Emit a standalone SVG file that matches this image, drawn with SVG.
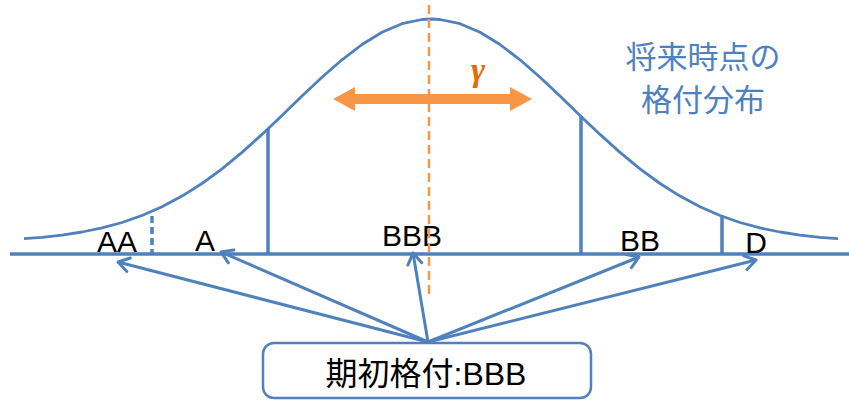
<svg xmlns="http://www.w3.org/2000/svg" width="849" height="401" viewBox="0 0 849 401">
<style>
.blue{stroke:#4F81BD;fill:none}
.lbl{font-family:"Liberation Sans",Arial,sans-serif;font-size:30px;fill:#000;text-anchor:middle}
.jp{font-family:"Noto Sans CJK JP","Noto Sans CJK SC",sans-serif;text-anchor:middle}
</style>
<defs>
<marker id="chev" markerUnits="userSpaceOnUse" markerWidth="30" markerHeight="30" viewBox="-15 -15 30 30" refX="0" refY="0" orient="auto">
<path d="M -11 -7 L 0 0 L -11 7" fill="none" stroke="#4F81BD" stroke-width="3" stroke-linecap="round" stroke-linejoin="round"/>
</marker>
</defs>
<rect width="849" height="401" fill="#fff"/>
<g id="distribution">
<polyline class="blue" stroke-width="2.8" stroke-linejoin="round" points="24,238.7 42,237.3 62,235.1 82,232.0 102,227.9 122,222.5 142,215.5 162,206.8 182,196.1 202,183.5 222,168.8 242,152.4 262,134.4 282,115.4 302,96.1 322,77.3 342,59.8 362,44.5 382,32.2 402,23.7 422,19.5 431,19 440,19.5 460,23.7 480,32.2 500,44.5 520,59.8 540,77.3 560,96.1 580,115.4 600,134.4 620,152.4 640,168.8 660,183.5 680,196.1 700,206.8 720,215.5 740,222.5 760,227.9 780,232.0 800,235.1 820,237.3 838,238.7"/>
<line class="blue" stroke-width="3.5" x1="10" y1="254" x2="849" y2="254"/>
<line class="blue" stroke-width="3.5" x1="268" y1="129" x2="268" y2="254"/>
<line class="blue" stroke-width="3.5" x1="581" y1="116" x2="581" y2="254"/>
<line class="blue" stroke-width="3.5" x1="722" y1="216" x2="722" y2="254"/>
<line class="blue" stroke-width="3.5" x1="152" y1="216" x2="152" y2="254" stroke-dasharray="7 4"/>
</g>
<g id="labels">
<text class="lbl" x="117" y="252">AA</text>
<text class="lbl" x="205" y="251">A</text>
<text class="lbl" x="412" y="246">BBB</text>
<text class="lbl" x="640" y="251">BB</text>
<text class="lbl" x="756" y="253">D</text>
</g>
<g id="future-label">
<text class="jp" x="703" y="68" font-size="31" fill="#4F81BD">将来時点の</text>
<text class="jp" x="703" y="111" font-size="31" fill="#4F81BD">格付分布</text>
</g>
<g id="gamma">
<line x1="429" y1="5" x2="429" y2="295" stroke="#F79646" stroke-width="2.5" stroke-dasharray="9 5"/>
<polygon points="333,99 355,87 355,94 510,94 510,87 532,99 510,111 510,104 355,104 355,111" fill="#F79646"/>
<text x="478" y="81" font-family="Liberation Serif,serif" font-style="italic" font-weight="bold" font-size="34" fill="#E46C0A" text-anchor="middle">γ</text>
</g>
<g id="connectors" stroke="#4F81BD" stroke-width="3" fill="none" marker-end="url(#chev)">
<line x1="428" y1="342" x2="118" y2="262"/>
<line x1="428" y1="342" x2="221" y2="252"/>
<line x1="428" y1="342" x2="413" y2="253"/>
<line x1="428" y1="342" x2="639" y2="257"/>
<line x1="428" y1="342" x2="756" y2="260"/>
</g>
<g id="initial-rating">
<rect x="263" y="343" width="328" height="55" rx="11" fill="#fff" stroke="#4F81BD" stroke-width="2.5"/>
<text x="426" y="385" font-family="Liberation Sans,'Noto Sans CJK JP',sans-serif" font-size="32" fill="#000" text-anchor="middle">期初格付:BBB</text>
</g>
</svg>
